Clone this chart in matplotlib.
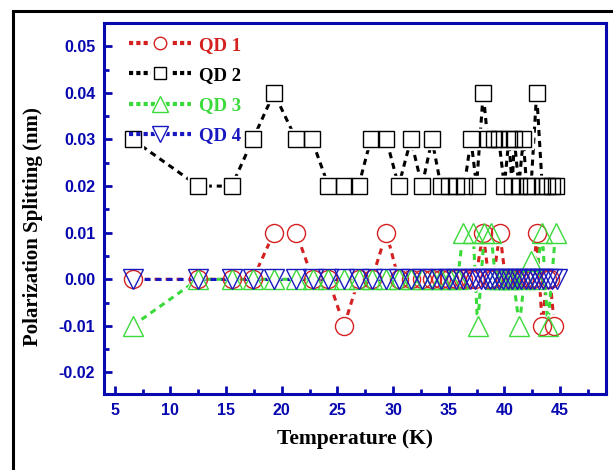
import matplotlib.pyplot as plt
from matplotlib.lines import Line2D
from matplotlib.patches import Rectangle
from matplotlib.legend_handler import HandlerTuple
from matplotlib.ticker import MultipleLocator, FormatStrFormatter

# temperatures (K)
T1 = [6.6, 12.5, 15.5, 17.4, 19.3, 21.3, 22.8, 24.2, 25.6, 26.9, 28.1, 29.4, 30.5, 31.6, 32.6, 33.5,
      34.3, 35.0, 35.7, 36.3, 36.9, 37.4, 38.1, 38.6, 39.0, 39.6, 40.1, 40.6, 41.0, 41.4, 41.8, 42.2,
      42.6, 42.9, 43.4, 43.8, 44.1, 44.5]
QD1 = [0, 0, 0, 0, 0.01, 0.01, 0, 0, -0.01, 0, 0, 0.01, 0, 0, 0, 0,
       0, 0, 0, 0, 0, 0, 0.01, 0, 0, 0.01, 0, 0, 0, 0, 0, 0,
       0, 0.01, -0.01, 0, 0, -0.01]

T2 = [6.6, 12.5, 15.5, 17.4, 19.3, 21.3, 22.7, 24.2, 25.6, 26.9, 28.0, 29.4, 30.5, 31.6, 32.6, 33.5,
      34.3, 35.0, 35.7, 36.4, 37.0, 37.5, 38.1, 38.5, 39.1, 39.5, 40.0, 40.4, 40.7, 40.9, 41.3, 41.7,
      42.0, 42.4, 42.9, 43.4, 43.8, 44.3, 44.6]
QD2 = [0.03, 0.02, 0.02, 0.03, 0.04, 0.03, 0.03, 0.02, 0.02, 0.02, 0.03, 0.03, 0.02, 0.03, 0.02, 0.03,
       0.02, 0.02, 0.02, 0.02, 0.03, 0.02, 0.04, 0.03, 0.03, 0.03, 0.02, 0.03, 0.02, 0.03, 0.02, 0.03,
       0.02, 0.02, 0.04, 0.02, 0.02, 0.02, 0.02]

T3 = [6.6, 12.5, 15.5, 17.4, 19.3, 21.3, 22.8, 24.2, 25.6, 26.9, 28.1, 29.4, 30.5, 31.6, 32.6, 33.5,
      34.3, 35.1, 35.8, 36.3, 37.2, 37.6, 38.2, 38.8, 39.2, 39.6, 40.0, 40.4, 40.8, 41.35, 41.8, 42.4,
      42.8, 43.4, 43.9, 44.6]
QD3 = [-0.01, 0, 0, 0, 0, 0, 0, 0, 0, 0, 0, 0, 0, 0, 0, 0,
       0, 0, 0, 0.01, 0.01, -0.01, 0.01, 0.01, 0, 0, 0, 0, 0, -0.01, 0, 0.004,
       0, 0.01, -0.01, 0.01]

T4 = [6.6, 12.5, 15.5, 17.4, 19.3, 21.3, 22.8, 24.2, 25.6, 26.9, 28.1, 29.4, 30.5, 31.6, 32.6, 33.5,
      34.3, 35.0, 35.7, 36.3, 36.9, 37.4, 37.9, 38.3, 38.7, 39.1, 39.5, 39.9, 40.3, 40.7, 41.1, 41.5,
      41.9, 42.3, 42.7, 43.1, 43.5, 43.9, 44.3, 44.7]
QD4 = [0] * len(T4)

labels = ['QD 1', 'QD 2', 'QD 3', 'QD 4']
colors = ['#d42020', 'black', '#3ada3a', '#1818c0']
markers = ['o', 's', '^', 'v']
msizes = [13, 11, 14, 14]
leg_ms = [9, 8.5, 11, 11]

blue = '#0808b0'
plt.rcParams['font.family'] = ['Liberation Sans', 'DejaVu Sans']

fig = plt.figure(figsize=(6.13, 4.70), dpi=100)
ax = fig.add_axes([0.170, 0.162, 0.818, 0.788])

series = [(T1, QD1), (T2, QD2), (T3, QD3), (T4, QD4)]
for (t, v), c, m, ms in zip(series, colors, markers, msizes):
    # line with white blobs so it stops short of the symbols
    ax.plot(t, v, color=c, lw=2.2, dashes=(2, 1.6), marker=m, ms=ms + 3,
            mfc='white', mec='white', zorder=2)
for (t, v), c, m, ms in zip(series, colors, markers, msizes):
    ax.plot(t, v, ls='none', marker=m, ms=ms, mfc='none', mec=c, mew=1.0, zorder=3)

ax.set_xlim(4.05, 49.1)
ax.set_ylim(-0.0246, 0.0549)
ax.xaxis.set_major_locator(MultipleLocator(5))
ax.xaxis.set_minor_locator(MultipleLocator(2.5))
ax.yaxis.set_major_locator(MultipleLocator(0.01))
ax.yaxis.set_minor_locator(MultipleLocator(0.005))
ax.yaxis.set_major_formatter(FormatStrFormatter('%.2f'))
ax.tick_params(which='both', direction='in', color=blue, width=2, top=False, right=False)
ax.tick_params(which='major', length=6, labelsize=11.5, labelcolor=blue, pad=6.5)
ax.tick_params(which='minor', length=3.5)
for lab in ax.get_xticklabels() + ax.get_yticklabels():
    lab.set_fontweight('bold')
for s in ax.spines.values():
    s.set_color(blue)
    s.set_linewidth(2.2)

ax.set_xlabel('Temperature (K)', family='Liberation Serif', fontweight='bold', fontsize=15.5, labelpad=8)
ax.set_ylabel('Polarization Splitting (nm)', family='Liberation Serif', fontweight='bold', fontsize=15)
ax.yaxis.set_label_coords(-0.122, 0.453)

# legend symbol: dashed line broken around the marker
handles = []
for c, m, ms in zip(colors, markers, leg_ms):
    back = Line2D([], [], color=c, lw=3, dashes=(1.0, 0.75), marker=m, ms=ms + 4, mfc='white', mec='white')
    front = Line2D([], [], ls='none', marker=m, ms=ms, mfc='none', mec=c, mew=1.0)
    handles.append((back, front))
leg = ax.legend(handles, labels, loc='upper left', bbox_to_anchor=(0.034, 0.985), borderaxespad=0,
                frameon=False, handlelength=3.3, numpoints=1, labelspacing=0.7, handletextpad=0.45,
                handler_map={tuple: HandlerTuple(ndivide=1, pad=0)},
                prop={'family': 'Liberation Serif', 'weight': 'bold', 'size': 13.5})
for txt, c in zip(leg.get_texts(), colors):
    txt.set_color(c)

fig.patches.append(Rectangle((13 / 613, -0.1), 1.0, (470 - 11) / 470 + 0.1, transform=fig.transFigure,
                             fill=False, ec='black', lw=2.2))

fig.savefig('out.png', dpi=100)
